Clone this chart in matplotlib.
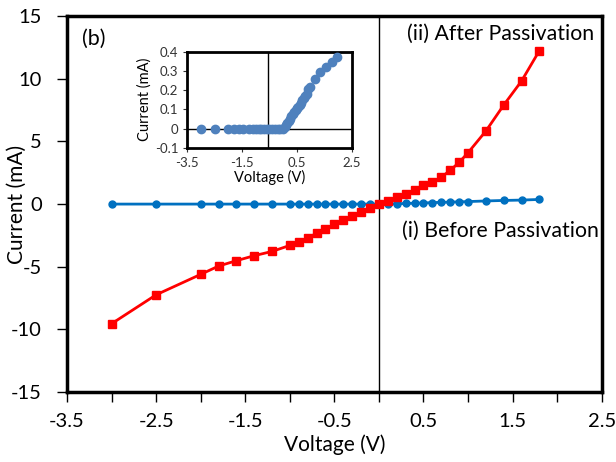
import numpy as np
import matplotlib
matplotlib.use("Agg")
import matplotlib.pyplot as plt

plt.rcParams['font.family'] = ['Lato', 'DejaVu Sans']
plt.rcParams['axes.unicode_minus'] = False

# ---- main plot data ----
v_before = [-3.0, -2.5, -2.0, -1.8, -1.6, -1.4, -1.2, -1.0, -0.9, -0.8, -0.7, -0.6,
            -0.5, -0.4, -0.3, -0.2, -0.1, 0.0, 0.1, 0.2, 0.3, 0.4, 0.5, 0.6, 0.7,
            0.8, 0.9, 1.0, 1.2, 1.4, 1.6, 1.8]
i_before = [0.0, 0.0, 0.0, 0.0, 0.0, 0.0, 0.0, 0.0, 0.0, 0.0, 0.0, 0.0,
            0.0, 0.0, 0.0, 0.0, 0.0, 0.0, 0.01, 0.03, 0.05, 0.07, 0.09, 0.12, 0.14,
            0.16, 0.18, 0.20, 0.25, 0.29, 0.32, 0.37]

v_after = [-3.0, -2.5, -2.0, -1.8, -1.6, -1.4, -1.2, -1.0, -0.9, -0.8, -0.7, -0.6,
           -0.5, -0.4, -0.3, -0.2, -0.1, 0.0, 0.1, 0.2, 0.3, 0.4, 0.5, 0.6, 0.7,
           0.8, 0.9, 1.0, 1.2, 1.4, 1.6, 1.8]
i_after = [-9.55, -7.24, -5.61, -4.95, -4.52, -4.12, -3.78, -3.30, -3.03, -2.69, -2.34, -1.97,
           -1.62, -1.28, -0.96, -0.64, -0.29, -0.02, 0.24, 0.53, 0.80, 1.12, 1.49, 1.78, 2.15,
           2.69, 3.33, 4.10, 5.83, 7.90, 9.82, 12.24]

# ---- inset data ----
v_inset = [-3.0, -2.5, -2.0, -1.8, -1.6, -1.45, -1.25, -1.1, -1.0, -0.9, -0.8, -0.7,
           -0.6, -0.5, -0.4, -0.3, -0.2, -0.1, 0.0, 0.05, 0.1, 0.15, 0.2, 0.25, 0.3,
           0.35, 0.4, 0.45, 0.5, 0.55, 0.6, 0.65, 0.7, 0.75, 0.8, 0.85, 0.92, 0.98,
           1.16, 1.34, 1.55, 1.77, 1.95]
i_inset = [0.0, 0.0, 0.0, 0.0, 0.0, 0.0, 0.0, 0.0, 0.0, 0.0, 0.0, 0.0,
           0.0, 0.0, 0.0, 0.0, 0.0, 0.0, 0.0, 0.01, 0.02, 0.03, 0.04, 0.05, 0.065,
           0.075, 0.085, 0.095, 0.105, 0.115, 0.125, 0.135, 0.148, 0.16, 0.17, 0.182, 0.205, 0.219,
           0.257, 0.297, 0.322, 0.348, 0.374]

fig = plt.figure(figsize=(6.16, 4.62), dpi=100)
ax = fig.add_axes([0.1088, 0.1515, 0.868, 0.8135])

ax.plot(v_before, i_before, color='#0070C0', lw=2, marker='o', ms=5, zorder=3)
ax.plot(v_after, i_after, color='#FF0000', lw=2, marker='s', ms=5.5, zorder=3)
ax.axvline(0, color='black', lw=1, zorder=2)

ax.set_xlim(-3.5, 2.5)
ax.set_ylim(-15, 15)
ax.set_xticks(np.arange(-3.5, 2.6, 1.0))
ax.set_xticks(np.arange(-3.0, 2.5, 1.0), minor=True)
ax.set_yticks(np.arange(-15, 16, 5))
ax.set_xticklabels(['-3.5', '-2.5', '-1.5', '-0.5', '0.5', '1.5', '2.5'])
ax.tick_params(axis='both', which='both', direction='out', length=7, width=1, labelsize=14.5)
ax.tick_params(axis='x', pad=8)
ax.tick_params(axis='y', pad=11)
for s in ax.spines.values():
    s.set_linewidth(2.5)
ax.set_xlabel('Voltage (V)', fontsize=15, labelpad=3)
ax.set_ylabel('Current (mA)', fontsize=15, va='center')
ax.yaxis.set_label_coords(-0.093, 0.5)

ax.text(0.028, 0.94, '(b)', transform=ax.transAxes, fontsize=15.5, va='center')
ax.text(0.985, 0.953, '(ii) After Passivation', transform=ax.transAxes,
        fontsize=15.3, ha='right', va='center')
ax.text(0.995, 0.43, '(i) Before Passivation', transform=ax.transAxes,
        fontsize=15.3, ha='right', va='center')

# ---- inset ----
axi = fig.add_axes([0.304, 0.680, 0.267, 0.208])
axi.plot(v_inset, i_inset, color='#4F81BD', lw=0, marker='o', ms=6, zorder=3)
axi.axhline(0, color='black', lw=1, zorder=2)
axi.axvline(-0.56, color='black', lw=1, zorder=2)
axi.set_xlim(-3.5, 2.5)
axi.set_ylim(-0.1, 0.4)
axi.set_xticks([-3.5, -1.5, 0.5, 2.5])
axi.set_xticklabels(['-3.5', '-1.5', '0.5', '2.5'])
axi.set_yticks([-0.1, 0, 0.1, 0.2, 0.3, 0.4])
axi.set_yticklabels(['-0.1', '0', '0.1', '0.2', '0.3', '0.4'])
axi.tick_params(axis='both', direction='out', length=3, width=0.8, labelsize=9.5, colors='#333333')
for s in axi.spines.values():
    s.set_linewidth(2)
axi.set_xlabel('Voltage (V)', fontsize=10.5, labelpad=1)
axi.set_ylabel('Current (mA)', fontsize=10.5, labelpad=2)

fig.savefig('out.png', dpi=100)
